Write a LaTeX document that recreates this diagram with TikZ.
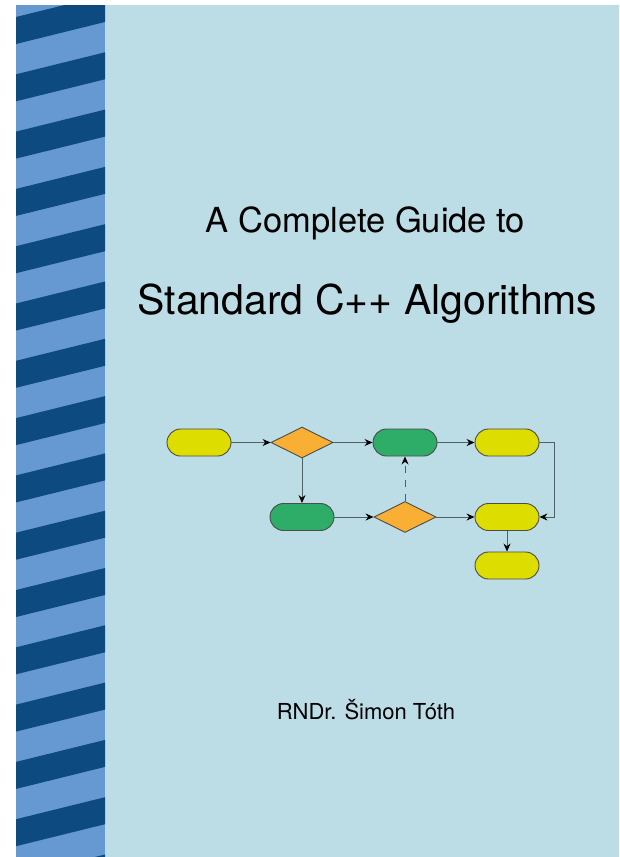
\documentclass[tikz,border=0pt]{standalone}
\usepackage{fontspec}
\setmainfont{TeX Gyre Heros}
\usetikzlibrary{shapes.geometric,arrows.meta}

\definecolor{coverblue}{HTML}{BCDDE6}
\definecolor{stripedark}{HTML}{0C4A7F}
\definecolor{stripelight}{HTML}{6699D1}
\definecolor{boxyellow}{HTML}{DDDD00}
\definecolor{boxgreen}{HTML}{2EAD69}
\definecolor{boxorange}{HTML}{F9AF33}
\definecolor{edgegrey}{HTML}{4F6067}

\begin{document}
\begin{tikzpicture}[x=1pt,y=-1pt,
		block/.style={draw=black!70,line width=0.9pt,rounded corners=13.5pt,minimum width=64pt,minimum height=27pt,inner sep=0pt},
		choice/.style={draw=black!70,line width=0.9pt,diamond,fill=boxorange,minimum width=62pt,minimum height=31pt,inner sep=0pt},
		flow/.style={draw=edgegrey,line width=1pt,-{Stealth[length=8pt,width=7pt,color=black]}}
	]
		\useasboundingbox (0,0) rectangle (619,857);
		\fill[white] (0,0) rectangle (619,857);
		\fill[coverblue] (16,5) rectangle (619,857);

		% spine stripes
		\begin{scope}
			\clip (16,5) rectangle (105,857);
			\fill[stripelight] (16,5) rectangle (105,857);
			\foreach \k in {-1,...,15}{
				\fill[stripedark] (16,{17+57.3*\k}) -- (105,{-5+57.3*\k}) -- (105,{22+57.3*\k}) -- (16,{44+57.3*\k}) -- cycle;
			}
		\end{scope}

		% title
		\node[anchor=base,font=\fontsize{34.5}{40}\selectfont] (guide) at (365.5,232) {A Complete Guide to};
		\node[anchor=base,font=\fontsize{41}{48}\selectfont] (title) at (367.5,314) {Standard C++ Algorithms};

		% flowchart
		\node[block,fill=boxyellow] (start) at (199,442.5) {};
		\node[choice] (test1) at (302,442.5) {};
		\node[block,fill=boxgreen] (work1) at (405,442.5) {};
		\node[block,fill=boxyellow] (out1) at (507,442.5) {};
		\node[block,fill=boxgreen] (work2) at (302,517) {};
		\node[choice] (test2) at (405,517) {};
		\node[block,fill=boxyellow] (out2) at (507,517) {};
		\node[block,fill=boxyellow] (out3) at (507,565.5) {};

		\draw[flow] (start) -- (test1);
		\draw[flow] (test1) -- (work1);
		\draw[flow] (work1) -- (out1);
		\draw[flow] (test1) -- (work2);
		\draw[flow] (work2) -- (test2);
		\draw[flow] (test2) -- (out2);
		\draw[flow,dash pattern=on 7pt off 7pt] (test2) -- (work1);
		\draw[flow] (out1.east) -- ++(15,0) |- (out2.east);
		\draw[flow] (out2) -- (out3);

		% author
		\node[anchor=base,font=\fontsize{22}{26}\selectfont] (author) at (366,719) {RNDr. Šimon Tóth};
\end{tikzpicture}
\end{document}
